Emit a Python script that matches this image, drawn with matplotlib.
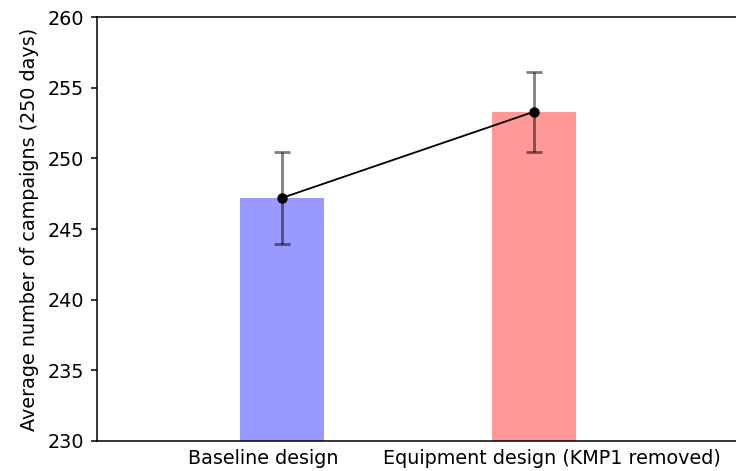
import numpy as np
import matplotlib
matplotlib.use("Agg")
import matplotlib.pyplot as plt

designs = ["Baseline design", "Equipment design (KMP1 removed)"]
means = [247.2, 253.3]
errors = [3.25, 2.83]
bar_colors = ["#9999ff", "#ff9999"]

x = np.arange(len(designs))
label_pos = [-0.075, 1.073]

fig = plt.figure(figsize=(7.36, 4.71), dpi=100)
ax = fig.add_axes([0.1314, 0.0643, 0.9357, 0.899])

ax.bar(x, means, width=0.334, color=bar_colors)
ax.errorbar(x, means, yerr=errors, fmt="none", ecolor="black", alpha=0.5,
            elinewidth=2.0, capsize=6, capthick=2.0)
ax.plot(x, means, "-o", color="black", lw=1.3, markersize=6.5)

ax.set_ylim(230, 260)
ax.set_xlim(-0.736, 2.0)
ax.set_yticks(np.arange(230, 261, 5))
ax.set_xticks(label_pos)
ax.set_xticklabels(designs)
ax.tick_params(axis="x", length=0, labelsize=13.8, pad=6)
ax.tick_params(axis="y", length=4.5, width=1.1, labelsize=13.8, pad=4.5)
ax.set_ylabel("Average number of campaigns (250 days)", fontsize=13.8, labelpad=6)
for s in ax.spines.values():
    s.set_linewidth(1.1)

fig.savefig("out.png", dpi=100)
